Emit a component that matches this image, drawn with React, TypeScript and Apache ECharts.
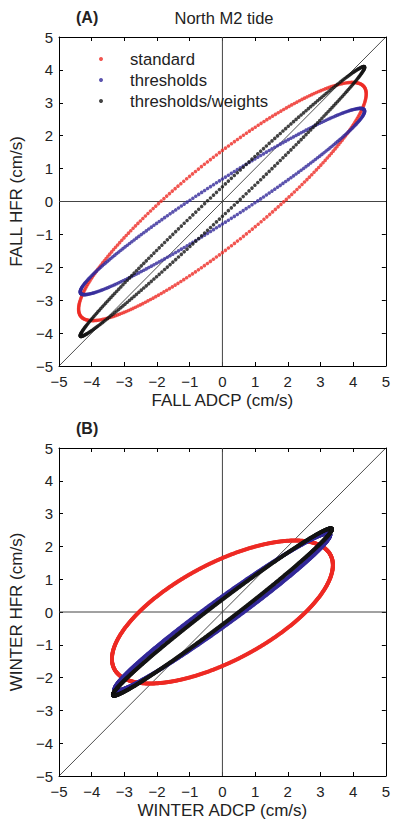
import React, { useEffect, useRef } from "react";
import * as echarts from "echarts";

// Tidal-ellipse parameters (amplitudes in cm/s, phase lag in degrees)
const seriesNames = ["standard", "thresholds", "thresholds/weights"];
const seriesColors = ["#ee2a24", "#33299a", "#141414"];
const fallAdcpAmp = [4.4, 4.35, 4.35];
const fallHfrAmp = [3.62, 2.83, 4.1];
const fallPhaseDeg = [25.4, 14, 6.3];
const winterAdcpAmp = [3.38, 3.3, 3.35];
const winterHfrAmp = [2.18, 2.4, 2.55];
const winterPhaseDeg = [49, 11.5, 8.6];
const axisTicks = [-5, -4, -3, -2, -1, 0, 1, 2, 3, 4, 5];

const FONT = "Liberation Sans, Arial, Helvetica, sans-serif";

function hodograph(ax: number, ay: number, phDeg: number, n: number) {
  const ph = (phDeg * Math.PI) / 180;
  const pts: number[][] = [];
  for (let i = 0; i < n; i++) {
    const t = (2 * Math.PI * i) / n;
    pts.push([ax * Math.cos(t), ay * Math.cos(t - ph)]);
  }
  return pts;
}

const fmt = (v: number) => String(v).replace("-", "\u2212");

function axesFor(gridIndex: number, xName: string, yName: string) {
  const common = {
    type: "value" as const,
    gridIndex,
    min: axisTicks[0],
    max: axisTicks[axisTicks.length - 1],
    interval: 1,
    splitLine: { show: false },
    axisLine: { show: true, onZero: false, lineStyle: { color: "#000", width: 1 } },
    axisTick: { show: true, inside: true, length: 4, lineStyle: { color: "#000", width: 1 } },
  };
  const xAxes = [
    {
      ...common,
      position: "bottom",
      name: xName,
      nameLocation: "middle",
      nameGap: 26,
      nameTextStyle: { fontFamily: FONT, fontSize: 17, color: "#222" },
      axisLabel: { fontFamily: FONT, fontSize: 15, color: "#222", margin: 8, formatter: fmt },
    },
    { ...common, position: "top", axisLabel: { show: false } },
  ];
  const yAxes = [
    {
      ...common,
      position: "left",
      name: yName,
      nameLocation: "middle",
      nameGap: 33,
      nameTextStyle: { fontFamily: FONT, fontSize: 17, color: "#222" },
      axisLabel: { fontFamily: FONT, fontSize: 15, color: "#222", margin: 6, formatter: fmt },
    },
    { ...common, position: "right", axisLabel: { show: false } },
  ];
  return { xAxes, yAxes };
}

function refLines(xi: number, yi: number) {
  const base = {
    type: "line" as const,
    xAxisIndex: xi,
    yAxisIndex: yi,
    symbol: "none",
    silent: true,
    z: 1,
  };
  return [
    { ...base, data: [[-5, -5], [5, 5]], lineStyle: { color: "#000", width: 0.7 } },
    { ...base, data: [[0, -5], [0, 5]], lineStyle: { color: "#444", width: 1 } },
    { ...base, data: [[-5, 0], [5, 0]], lineStyle: { color: "#444", width: 1 } },
  ];
}

export default function App() {
  const ref = useRef<HTMLDivElement>(null);
  useEffect(() => {
    if (!ref.current) return;
    const chart = echarts.init(ref.current, undefined, { renderer: "svg" });
    const a = axesFor(0, "FALL ADCP (cm/s)", "FALL HFR (cm/s)");
    const b = axesFor(1, "WINTER ADCP (cm/s)", "WINTER HFR (cm/s)");
    const series: any[] = [];
    series.push(...refLines(0, 0));
    series.push(...refLines(2, 2));
    seriesNames.forEach((name, i) => {
      series.push({
        type: "scatter",
        name,
        xAxisIndex: 0,
        yAxisIndex: 0,
        symbol: "circle",
        symbolSize: 3.6,
        itemStyle: { color: seriesColors[i] },
        data: hodograph(fallAdcpAmp[i], fallHfrAmp[i], fallPhaseDeg[i], 300),
        z: 2 + i,
      });
    });
    seriesNames.forEach((name, i) => {
      series.push({
        type: "scatter",
        name,
        xAxisIndex: 2,
        yAxisIndex: 2,
        symbol: "circle",
        symbolSize: 4,
        itemStyle: { color: seriesColors[i] },
        data: hodograph(winterAdcpAmp[i], winterHfrAmp[i], winterPhaseDeg[i], 900),
        z: 2 + i,
      });
    });
    chart.setOption({
      animation: false,
      backgroundColor: "#fff",
      title: [
        { text: "(A)", left: 76, top: 9, padding: 0, textStyle: { fontFamily: FONT, fontSize: 16, fontWeight: "bold", color: "#222" } },
        { text: "North M2 tide", left: 224, textAlign: "center", top: 9, padding: 0, textStyle: { fontFamily: FONT, fontSize: 16.5, fontWeight: "normal", color: "#222" } },
        { text: "(B)", left: 76, top: 420, padding: 0, textStyle: { fontFamily: FONT, fontSize: 16, fontWeight: "bold", color: "#222" } },
      ],
      legend: {
        data: seriesNames,
        orient: "vertical",
        left: 99,
        top: 49,
        padding: 0,
        itemGap: 1,
        itemWidth: 4,
        itemHeight: 4,
        icon: "circle",
        selectedMode: false,
        textStyle: { fontFamily: FONT, fontSize: 16.7, color: "#222", lineHeight: 20, padding: [0, 0, 0, 22] },
      },
      grid: [
        { left: 59, top: 37, width: 329, height: 329 },
        { left: 59, top: 448, width: 329, height: 328 },
      ],
      xAxis: [...a.xAxes, ...b.xAxes],
      yAxis: [...a.yAxes, ...b.yAxes],
      series,
    });
    return () => chart.dispose();
  }, []);
  return (
    <div
      ref={ref}
      style={{ position: "fixed", left: 0, top: 0, width: 393, height: 820 }}
    />
  );
}
